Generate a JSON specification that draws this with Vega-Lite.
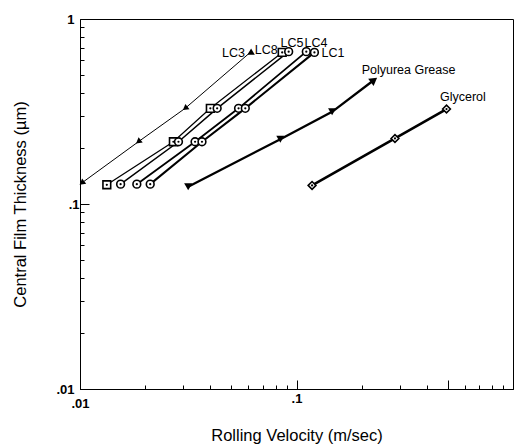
{
  "$schema": "https://vega.github.io/schema/vega-lite/v6.json",
  "width": 433,
  "height": 370,
  "autosize": {"type": "none"},
  "padding": {"left": 80, "top": 19, "right": 2, "bottom": 59},
  "background": "white",
  "config": {
    "view": {"stroke": "black", "strokeWidth": 1},
    "font": "Liberation Sans",
    "axis": {
      "domainColor": "black",
      "tickColor": "black",
      "labelColor": "black",
      "titleColor": "black",
      "labelFont": "Liberation Sans",
      "titleFont": "Liberation Sans",
      "labelFontSize": 13,
      "labelFontWeight": "bold",
      "titleFontSize": 16.5,
      "titleFontWeight": "normal",
      "grid": false,
      "ticks": true,
      "tickWidth": 1
    }
  },
  "datasets": {
    "pts": [
      {"series": "LC3", "v": 0.0102, "h": 0.13},
      {"series": "LC3", "v": 0.0186, "h": 0.217},
      {"series": "LC3", "v": 0.0306, "h": 0.329},
      {"series": "LC3", "v": 0.0617, "h": 0.666},
      {"series": "LC8", "v": 0.0133, "h": 0.127},
      {"series": "LC8", "v": 0.027, "h": 0.217},
      {"series": "LC8", "v": 0.04, "h": 0.329},
      {"series": "LC8", "v": 0.0859, "h": 0.66},
      {"series": "LC5", "v": 0.0154, "h": 0.128},
      {"series": "LC5", "v": 0.0285, "h": 0.217},
      {"series": "LC5", "v": 0.043, "h": 0.329},
      {"series": "LC5", "v": 0.092, "h": 0.666},
      {"series": "LC4", "v": 0.0183, "h": 0.128},
      {"series": "LC4", "v": 0.034, "h": 0.217},
      {"series": "LC4", "v": 0.054, "h": 0.329},
      {"series": "LC4", "v": 0.111, "h": 0.666},
      {"series": "LC1", "v": 0.0211, "h": 0.128},
      {"series": "LC1", "v": 0.0366, "h": 0.217},
      {"series": "LC1", "v": 0.058, "h": 0.329},
      {"series": "LC1", "v": 0.121, "h": 0.66},
      {"series": "Polyurea Grease", "v": 0.0316, "h": 0.124},
      {"series": "Polyurea Grease", "v": 0.0842, "h": 0.224},
      {"series": "Polyurea Grease", "v": 0.146, "h": 0.315},
      {"series": "Polyurea Grease", "v": 0.228, "h": 0.468},
      {"series": "Glycerol", "v": 0.118, "h": 0.126},
      {"series": "Glycerol", "v": 0.285, "h": 0.226},
      {"series": "Glycerol", "v": 0.493, "h": 0.326}
    ],
    "labels": [
      {"series": "LC3", "v": 0.0453, "h": 0.658},
      {"series": "LC8", "v": 0.0641, "h": 0.68},
      {"series": "LC5", "v": 0.0843, "h": 0.745},
      {"series": "LC4", "v": 0.109, "h": 0.745},
      {"series": "LC1", "v": 0.1306, "h": 0.652},
      {"series": "Polyurea Grease", "v": 0.2, "h": 0.53},
      {"series": "Glycerol", "v": 0.46, "h": 0.377}
    ]
  },
  "encoding": {
    "x": {
      "field": "v", "type": "quantitative",
      "scale": {"type": "log", "domain": [0.01, 1]},
      "axis": {
        "title": "Rolling Velocity (m/sec)",
        "values": [0.01,0.02,0.03,0.04,0.05,0.06,0.07,0.08,0.09,0.1,0.2,0.3,0.4,0.5,0.6,0.7,0.8,0.9,1],
        "labelExpr": "datum.value == 0.01 ? '.01' : (datum.value == 0.1 ? '.1' : '')",
        "tickSize": {"condition": {"test": "datum.value == 0.1 || datum.value == 0.5", "value": -9}, "value": -4},
        "labelPadding": 12,
        "titlePadding": 17,
        "labelFlush": false,
        "labelOverlap": false
      }
    },
    "y": {
      "field": "h", "type": "quantitative",
      "scale": {"type": "log", "domain": [0.01, 1]},
      "axis": {
        "title": "Central Film Thickness (µm)",
        "values": [0.01,0.02,0.03,0.04,0.05,0.06,0.07,0.08,0.09,0.1,0.2,0.3,0.4,0.5,0.6,0.7,0.8,0.9,1],
        "labelExpr": "datum.value == 0.01 ? '.01' : (datum.value == 0.1 ? '.1' : (datum.value == 1 ? '1' : ''))",
        "tickSize": {"condition": {"test": "datum.value == 0.1", "value": -9}, "value": -4},
        "labelPadding": 10,
        "titlePadding": 27,
        "labelFlush": false,
        "labelOverlap": false
      }
    }
  },
  "layer": [
    {
      "data": {"name": "pts"},
      "mark": {"type": "line", "color": "black"},
      "encoding": {
        "detail": {"field": "series"},
        "strokeWidth": {
          "field": "series", "type": "nominal", "legend": null,
          "scale": {"domain": ["LC3","LC8","LC5","LC4","LC1","Polyurea Grease","Glycerol"], "range": [1,2.6,2.6,2.6,2.6,3,2.8]}
        }
      }
    },
    {
      "data": {"name": "pts"},
      "transform": [{"filter": "datum.series != 'LC3' && datum.series != 'Polyurea Grease'"}],
      "mark": {"type": "point", "filled": true, "fill": "white", "stroke": "black", "strokeWidth": 1.6, "opacity": 1},
      "encoding": {
        "shape": {
          "field": "series", "type": "nominal", "legend": null,
          "scale": {"domain": ["LC8","LC5","LC4","LC1","Glycerol"], "range": ["square","circle","circle","circle","diamond"]}
        },
        "size": {"value": 60}
      }
    },
    {
      "data": {"name": "pts"},
      "transform": [{"filter": "datum.series != 'LC3' && datum.series != 'Polyurea Grease'"}],
      "mark": {"type": "point", "filled": true, "color": "black", "shape": "circle", "size": 5, "opacity": 1}
    },
    {
      "data": {"name": "pts"},
      "transform": [{"filter": "datum.series == 'LC3' && datum.h < 0.5"}],
      "mark": {"type": "point", "filled": true, "color": "black", "shape": "triangle-up", "size": 45, "angle": 232, "opacity": 1}
    },
    {
      "data": {"name": "pts"},
      "transform": [{"filter": "datum.series == 'LC3' && datum.h > 0.5"}],
      "mark": {"type": "point", "filled": true, "color": "black", "shape": "triangle-up", "size": 55, "opacity": 1}
    },
    {
      "data": {"name": "pts"},
      "transform": [{"filter": "datum.series == 'Polyurea Grease' && datum.h < 0.4"}],
      "mark": {"type": "point", "filled": true, "color": "black", "shape": "triangle-down", "size": 65, "opacity": 1}
    },
    {
      "data": {"name": "pts"},
      "transform": [{"filter": "datum.series == 'Polyurea Grease' && datum.h > 0.4"}],
      "mark": {"type": "point", "filled": true, "color": "black", "shape": "triangle-up", "size": 80, "angle": 53, "opacity": 1}
    },
    {
      "data": {"name": "labels"},
      "mark": {"type": "text", "align": "left", "baseline": "middle", "font": "Liberation Sans", "fontSize": 12.5, "color": "black"},
      "encoding": {
        "text": {"field": "series"}
      }
    }
  ]
}
